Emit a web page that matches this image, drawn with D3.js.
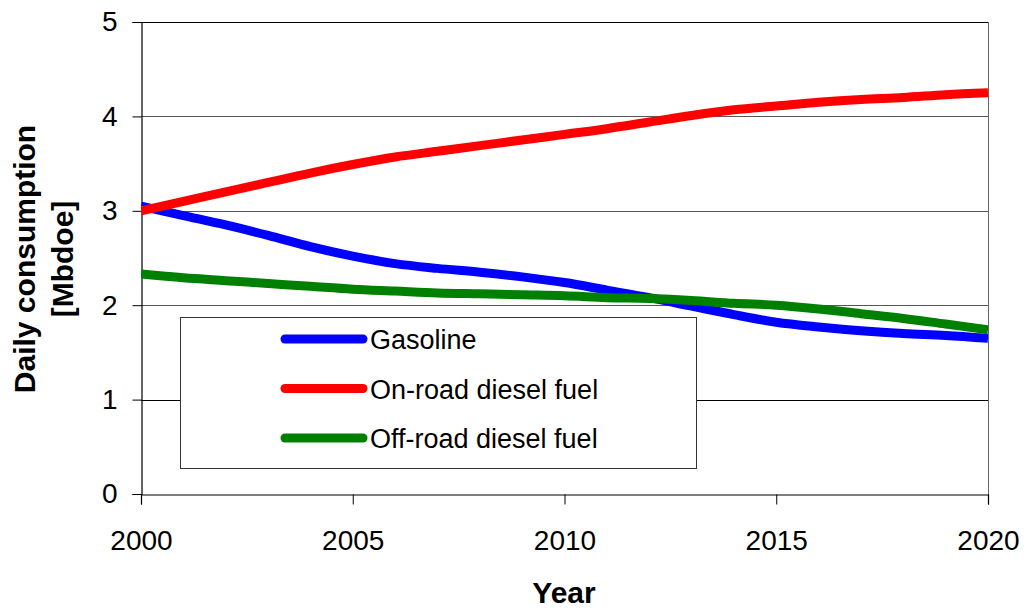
<!DOCTYPE html>
<html>
<head>
<meta charset="utf-8">
<script src="https://cdn.jsdelivr.net/npm/d3@7"></script>
<style>
  body { margin: 0; background: #fff; }
  svg { font-family: "Liberation Sans", Arial, sans-serif; }
</style>
</head>
<body>
<div id="chart"></div>
<script>
// データ
const years = d3.range(2000, 2021);
const gasoline = [3.05, 2.95, 2.85, 2.74, 2.62, 2.52, 2.44, 2.39, 2.35, 2.30, 2.24,
                  2.16, 2.08, 1.99, 1.90, 1.82, 1.77, 1.73, 1.70, 1.68, 1.65];
const onRoad = [3.00, 3.10, 3.20, 3.30, 3.40, 3.49, 3.57, 3.63, 3.69, 3.75, 3.81,
                3.87, 3.94, 4.01, 4.07, 4.11, 4.15, 4.18, 4.20, 4.23, 4.25];
const offRoad = [2.33, 2.29, 2.26, 2.23, 2.20, 2.17, 2.15, 2.13, 2.12, 2.11, 2.10,
                 2.08, 2.07, 2.05, 2.02, 2.00, 1.96, 1.91, 1.86, 1.80, 1.74];
const seriesNames = ["Gasoline", "On-road diesel fuel", "Off-road diesel fuel"];
const seriesColors = ["#0000ff", "#ff0000", "#008000"];
const xTicks = [2000, 2005, 2010, 2015, 2020];
const yTicks = [0, 1, 2, 3, 4, 5];

const series = [gasoline, onRoad, offRoad].map((vals, i) => ({
    name: seriesNames[i],
    color: seriesColors[i],
    values: vals.map((v, j) => ({ year: years[j], value: v }))
}));

const svg = d3.select("#chart")
              .append("svg")
              .attr("width", 1026)
              .attr("height", 609);

const plotL = 141, plotR = 988, plotT = 22, plotB = 494;

const x = d3.scaleLinear().domain([2000, 2020]).range([plotL, plotR]);
const y = d3.scaleLinear().domain([0, 5]).range([plotB, plotT]);

// グリッド線
svg.append("g")
   .selectAll("line")
   .data(yTicks.filter(d => d > 0))
   .enter()
   .append("line")
   .attr("x1", plotL)
   .attr("x2", plotR)
   .attr("y1", d => Math.round(y(d)) + 0.5)
   .attr("y2", d => Math.round(y(d)) + 0.5)
   .attr("stroke", d => (d === 5 || d === 1) ? "#000" : "#555")
   .attr("stroke-width", 1);

// 右の枠線
svg.append("line")
   .attr("x1", plotR + 0.5).attr("x2", plotR + 0.5)
   .attr("y1", plotT).attr("y2", plotB + 10)
   .attr("stroke", "#666");

// Y 軸
const yAxis = svg.append("g")
   .attr("transform", `translate(${plotL + 0.5},0)`)
   .call(d3.axisLeft(y).tickValues(yTicks).tickFormat(d3.format("d")).tickSize(9).tickPadding(15));

// X 軸
const xAxis = svg.append("g")
   .attr("transform", `translate(0,${plotB + 0.5})`)
   .call(d3.axisBottom(x).tickValues(xTicks).tickFormat(d3.format("d")).tickSize(10).tickPadding(26));

[yAxis, xAxis].forEach(a => {
    a.select(".domain").attr("stroke", "#000").attr("stroke-width", 1.2);
    a.selectAll(".tick line").attr("stroke", "#000");
    a.selectAll(".tick text")
     .attr("font-size", "28px")
     .attr("fill", "#000")
     .style("font-family", "'Liberation Sans', Arial, sans-serif");
});

// 凡例の枠
svg.append("rect")
   .attr("x", 180.5)
   .attr("y", 317.5)
   .attr("width", 516)
   .attr("height", 151)
   .attr("fill", "#fff")
   .attr("stroke", "#333")
   .attr("stroke-width", 1);

// 線の描画
const line = d3.line()
               .x(d => x(d.year))
               .y(d => y(d.value))
               .curve(d3.curveMonotoneX);

const plot = svg.append("g");
plot.append("clipPath").attr("id", "clip")
    .append("rect").attr("x", plotL).attr("y", 0).attr("width", plotR - plotL).attr("height", plotB);

plot.selectAll("path.series")
    .data(series)
    .enter()
    .append("path")
    .attr("class", "series")
    .attr("clip-path", "url(#clip)")
    .attr("d", d => line(d.values))
    .attr("fill", "none")
    .attr("stroke", d => d.color)
    .attr("stroke-width", 9);

// 凡例
const legend = svg.selectAll("g.legend")
                  .data(series)
                  .enter()
                  .append("g")
                  .attr("class", "legend")
                  .attr("transform", (d, i) => `translate(285, ${339 + i * 49.5})`);

legend.append("line")
      .attr("x1", 0)
      .attr("x2", 78)
      .attr("stroke", d => d.color)
      .attr("stroke-width", 9)
      .attr("stroke-linecap", "round");

legend.append("text")
      .text(d => d.name)
      .attr("x", 85)
      .attr("y", 10)
      .attr("font-size", "27px")
      .attr("fill", "#000");

// 軸タイトル
svg.append("text")
   .text("Year")
   .attr("x", 564)
   .attr("y", 603)
   .attr("text-anchor", "middle")
   .attr("font-size", "30px")
   .attr("font-weight", "bold");

const yTitle = svg.append("text")
   .attr("transform", "translate(35, 259) rotate(-90)")
   .attr("text-anchor", "middle")
   .attr("font-size", "30px")
   .attr("font-weight", "bold");
yTitle.append("tspan").attr("x", 0).attr("y", 0).text("Daily consumption");
yTitle.append("tspan").attr("x", 0).attr("y", 38).text("[Mbdoe]");
</script>
</body>
</html>
